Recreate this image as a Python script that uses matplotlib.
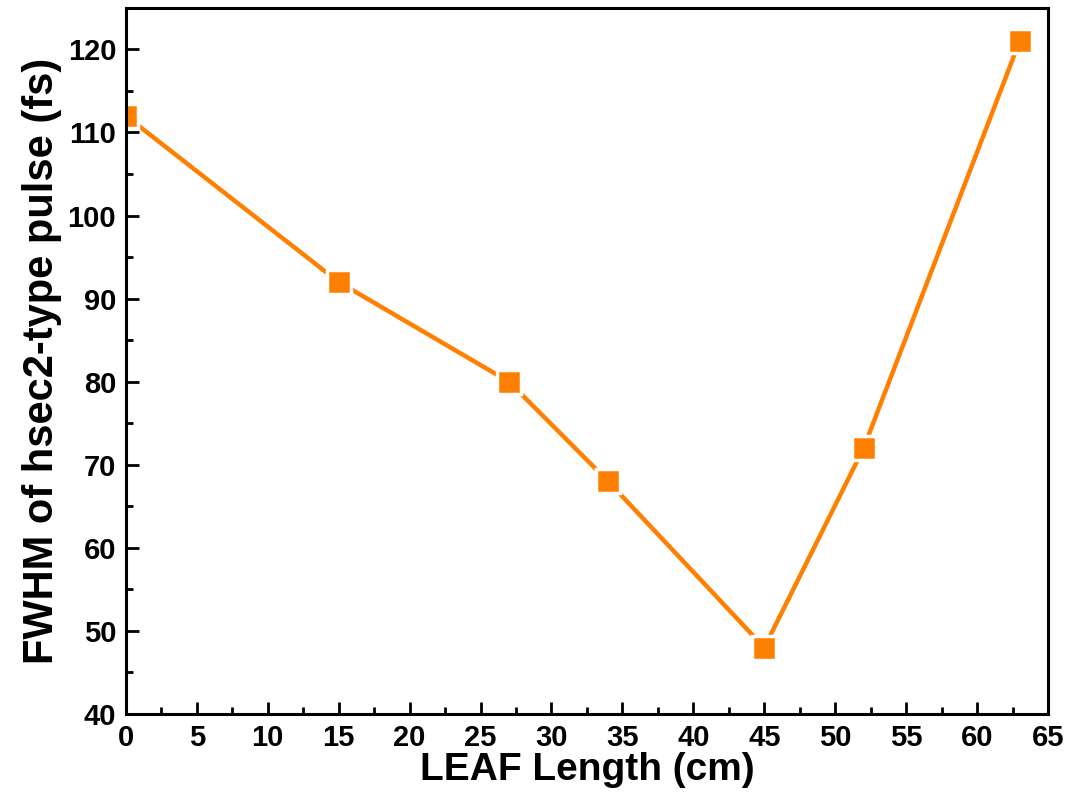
import matplotlib
matplotlib.use("Agg")
import matplotlib.pyplot as plt
from matplotlib.ticker import MultipleLocator

plt.rcParams['font.family'] = ['Liberation Sans', 'DejaVu Sans']
plt.rcParams['font.weight'] = 'bold'

leaf_length = [0, 15, 27, 34, 45, 52, 63]
fwhm = [112, 92, 80, 68, 48, 72, 121]

fig = plt.figure(figsize=(10.76, 8.08), dpi=100)
ax = fig.add_axes([0.117, 0.1163, 0.857, 0.874])

# white marker edge leaves a small gap between line and squares
ax.plot(leaf_length, fwhm, color='#FF8000', lw=3.2, marker='s', ms=17,
        mfc='#FF8000', mec='white', mew=2.5, solid_capstyle='round')

ax.set_xlim(0, 65)
ax.set_ylim(40, 125)
ax.xaxis.set_major_locator(MultipleLocator(5))
ax.xaxis.set_minor_locator(MultipleLocator(2.5))
ax.yaxis.set_major_locator(MultipleLocator(10))
ax.yaxis.set_minor_locator(MultipleLocator(5))
ax.tick_params(which='both', direction='in', width=2, labelsize=21, pad=7)
ax.tick_params(which='major', length=9)
ax.tick_params(which='minor', length=5)
for s in ax.spines.values():
    s.set_linewidth(2.2)

ax.set_xlabel('LEAF Length (cm)', fontsize=28, fontweight='bold', labelpad=0)
ax.set_ylabel('FWHM of hsec2-type pulse (fs)', fontsize=30, fontweight='bold', labelpad=4)

fig.savefig('out.png', dpi=100)
